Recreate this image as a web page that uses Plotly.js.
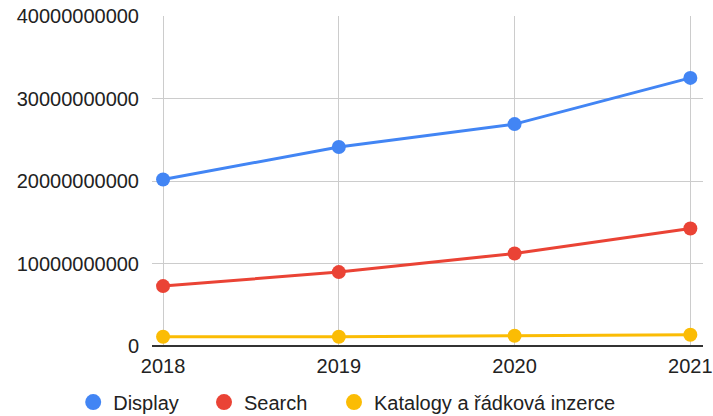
<!DOCTYPE html>
<html>
<head>
<meta charset="utf-8">
<script src="https://cdn.plot.ly/plotly-3.0.1.min.js"></script>
<style>html,body{margin:0;padding:0;background:#fff;}#chart{width:713px;height:416px;}</style>
</head>
<body>
<div id="chart"></div>
<script>
const years = ["2018", "2019", "2020", "2021"];
const display = [20180000000, 24130000000, 26900000000, 32500000000];
const search = [7260000000, 8960000000, 11220000000, 14250000000];
const katalogy = [1130000000, 1130000000, 1250000000, 1370000000];
const seriesNames = ["Display", "Search", "Katalogy a řádková inzerce"];
const colors = ["#4285F4", "#EA4335", "#FBBC04"];
const yTicks = [0, 10000000000, 20000000000, 30000000000, 40000000000];

const series = [display, search, katalogy];
const legendIds = ["legend", "legend2", "legend3"];
const legendX = [-0.143, 0.0944, 0.3303];
const traces = [];
series.forEach((vals, i) => {
  traces.push({
    x: years, y: vals, type: "scatter", mode: "lines+markers",
    line: {color: colors[i], width: 3},
    marker: {color: colors[i], size: 14},
    showlegend: false, hoverinfo: "x+y"
  });
});
series.forEach((vals, i) => {
  traces.push({
    x: [null], y: [null], type: "scatter", mode: "markers",
    name: seriesNames[i], legend: legendIds[i],
    marker: {color: colors[i], size: 20},
    showlegend: true
  });
});

const layout = {
  width: 713, height: 416,
  margin: {l: 152, r: 10, t: 16, b: 70, autoexpand: false},
  paper_bgcolor: "#fff", plot_bgcolor: "#fff",
  font: {family: "Arial, 'Liberation Sans', sans-serif", size: 20, color: "#222"},
  xaxis: {
    type: "category", range: [-0.063, 3.072],
    showgrid: true, gridcolor: "#cccccc", gridwidth: 1,
    zeroline: false, showline: false, ticks: "", ticklabelstandoff: 6,
    tickfont: {size: 20, color: "#222"}
  },
  yaxis: {
    range: [0, 40000000000], tickvals: yTicks, tickformat: "d",
    showgrid: true, gridcolor: "#cccccc", gridwidth: 1,
    zeroline: true, zerolinecolor: "#333", zerolinewidth: 1.5,
    showline: false, ticks: "", ticklabelstandoff: 12,
    tickfont: {size: 20, color: "#222"}
  },
  showlegend: true
};
legendIds.forEach((id, i) => {
  layout[id] = {
    orientation: "h", x: legendX[i], xanchor: "left", y: -0.17, yanchor: "middle",
    font: {size: 20, color: "#222"}, itemsizing: "trace", bgcolor: "rgba(0,0,0,0)"
  };
});
Plotly.newPlot("chart", traces, layout, {displayModeBar: false, staticPlot: true});
</script>
</body>
</html>
